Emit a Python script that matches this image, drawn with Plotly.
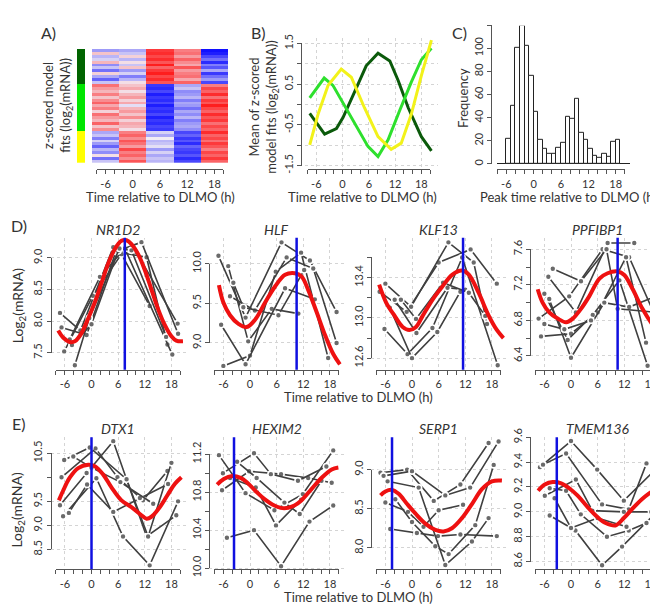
import plotly.graph_objects as go

W, H = 658, 606
FONT = "Lato"
TXT = "#333333"
AX = "#555555"
GRID = "#d4d4d4"

# ------------------------------------------------------------------ data
# Panel A : z-scored model fits per gene (rows) at 5 time bins
heat_times = [-6, 0, 6, 12, 18]
heat_darkgreen = [
    [-0.6, -0.5, 1.3, 0.8, -1.6], [0.3, -0.3, 1.4, 0.9, -1.5], [-0.4, 0.2, 1.2, 0.6, -1.2],
    [-0.2, -0.4, 1.4, 1.0, -0.9], [0.4, 0.1, 1.1, 0.7, -1.4], [-0.7, -0.3, 1.5, 0.5, -0.8],
    [-0.3, 0.3, 1.0, 1.1, -1.1], [-0.9, -0.6, 1.3, 0.6, -0.5], [0.2, -0.2, 1.5, 0.8, -1.3],
    [-0.5, -0.8, 1.2, 0.9, -0.9], [-1.0, -0.4, 1.4, 0.5, -0.6], [-0.3, 0.1, 1.1, 1.0, -1.2],
]
heat_green = [
    [0.9, 0.3, -1.3, -0.5, 0.8], [0.6, 0.5, -1.4, -0.3, 1.2], [0.4, 0.1, -1.2, -0.7, 1.0],
    [0.8, 0.4, -1.5, -0.6, 1.4], [0.3, 0.6, -1.3, -0.4, 0.9], [0.7, 0.2, -1.4, -0.8, 1.3],
    [1.0, 0.5, -1.2, -0.5, 1.1], [0.5, -0.1, -1.5, -0.6, 1.5], [0.8, 0.4, -1.3, -0.9, 1.2],
    [0.2, 0.6, -1.4, -0.5, 1.0], [0.9, 0.3, -1.2, -0.7, 1.4], [0.6, 0.7, -1.5, -0.4, 1.1],
    [0.4, 0.2, -1.3, -0.8, 1.3], [1.0, 0.5, -1.4, -0.6, 0.9], [0.3, 0.4, -1.2, -0.5, 1.2],
    [0.7, 0.1, -1.3, -0.7, 1.0],
]
heat_yellow = [
    [-0.5, 0.8, -0.2, -1.2, 1.4], [-0.3, 1.0, -0.5, -1.0, 1.0], [-0.8, 0.7, 0.0, -1.3, 1.2],
    [-0.2, 1.1, -0.4, -1.1, 0.9], [-0.6, 0.9, -0.3, -1.4, 1.3], [-1.0, 0.6, -0.1, -1.0, 1.1],
    [-0.4, 1.2, -0.6, -1.2, 0.8], [-0.7, 0.8, -0.2, -1.3, 1.2], [0.1, 1.0, -0.5, -1.1, 1.0],
    [-0.9, 0.7, -0.3, -1.4, 1.3], [-0.3, 1.1, -0.4, -1.2, 1.0],
]

# Panel B : cluster means
b_darkgreen_t = [-7.5, -4.1, -1.4, 0.1, 2.8, 5.4, 8.1, 10.8, 12.7, 15.0, 18.0, 20.3]
b_darkgreen_v = [-0.22, -0.73, -0.59, -0.32, 0.32, 0.95, 1.26, 1.07, 0.59, -0.08, -0.79, -1.14]
b_green_t = [-7.5, -4.2, -2.2, 0.5, 3.5, 5.8, 8.1, 10.4, 13.0, 15.7, 18.0, 20.3]
b_green_v = [0.16, 0.65, 0.47, -0.04, -0.63, -1.03, -1.28, -0.87, -0.16, 0.55, 1.10, 1.38]
b_yellow_t = [-7.5, -5.6, -3.3, -0.3, 2.0, 5.0, 8.1, 11.1, 13.4, 15.7, 18.0, 20.3]
b_yellow_v = [-0.99, -0.24, 0.47, 0.87, 0.67, -0.08, -0.79, -1.10, -0.95, -0.24, 0.71, 1.58]

# Panel C : histogram of peak times (1 h bins starting at -6)
hist_bin_start = [-6, -5, -4, -3, -2, -1, 0, 1, 2, 3, 4, 5, 6, 7, 8, 9, 10, 11, 12, 13, 14, 15, 16, 17, 18]
hist_counts = [22, 50, 100, 119, 102, 76, 45, 21, 13, 9, 9, 14, 18, 41, 39, 56, 27, 21, 13, 7, 5, 9, 6, 19, 21]

# Tick labels (empty string = unlabelled tick)
time_ticks = [-8, -6, -4, -2, 0, 2, 4, 6, 8, 10, 12, 14, 16, 18, 20]
time_labels = ["", "-6", "", "", "0", "", "", "6", "", "", "12", "", "", "18", ""]
b_yticks = [-1.5, -1.0, -0.5, 0.0, 0.5, 1.0, 1.5]
b_ylabels = ["-1.5", "", "-0.5", "", "0.5", "", "1.5"]
c_yticks = [0, 20, 40, 60, 80, 100, 120]
c_ylabels = ["0", "20", "40", "60", "80", "100", ""]

# Panels D/E : genes
NR1D2_fit_t = [-7.5, -6.4, -4.9, -3.75, -2.25, -0.75, 0.75, 2.25, 3.75, 5.25, 6.75, 7.9, 9.0, 10.5, 12.0, 13.5, 15.0, 16.5, 18.0, 19.1, 20.6]
NR1D2_fit_v = [7.85, 7.74, 7.67, 7.68, 7.81, 8.04, 8.30, 8.60, 8.91, 9.14, 9.27, 9.28, 9.22, 9.06, 8.81, 8.50, 8.19, 7.94, 7.76, 7.69, 7.68]
NR1D2_subjects = [
    [(-7.1, 8.13), (-2.5, 7.85), (4.9, 9.17), (10.1, 9.09), (19.4, 7.96)],
    [(-6.75, 7.90), (-1.1, 7.78), (5.5, 9.10), (12.4, 9.01), (17.1, 7.63)],
    [(-6.15, 7.52), (0.3, 8.40), (6.75, 9.06), (13.1, 8.24)],
    [(-4.9, 7.71), (1.9, 8.70), (7.5, 9.15), (18.2, 7.47)],
    [(-4.4, 7.62), (0.0, 7.95), (6.0, 9.11), (11.25, 9.25), (19.5, 7.80)],
    [(-3.75, 7.30), (-0.5, 8.05), (6.3, 9.15), (9.0, 9.12), (16.8, 7.75)],
]
NR1D2_peak = 7.5
NR1D2_yticks = [7.5, 8.0, 8.5, 9.0]
NR1D2_ylabels = ["7.5", "8.0", "8.5", "9.0"]

HLF_fit_t = [-7.0, -6.0, -4.5, -2.6, -0.75, 1.1, 3.4, 5.6, 7.9, 10.1, 11.6, 13.1, 15.0, 16.9, 18.75, 20.25]
HLF_fit_v = [9.73, 9.51, 9.35, 9.24, 9.20, 9.29, 9.51, 9.71, 9.86, 9.88, 9.84, 9.67, 9.39, 9.10, 8.86, 8.73]
HLF_subjects = [
    [(-7.1, 10.10), (-1.0, 9.32), (7.1, 10.27), (13.5, 10.04), (19.5, 9.39)],
    [(-6.0, 8.71), (0.0, 8.84), (5.8, 9.90), (11.5, 10.14), (17.6, 8.81)],
    [(-4.9, 9.97), (-0.4, 9.02), (4.9, 9.43), (10.9, 9.37)],
    [(-4.5, 9.59), (1.1, 9.41), (8.25, 10.08), (14.25, 9.94), (19.5, 9.00)],
    [(-3.75, 9.76), (-1.5, 9.45), (6.4, 9.35), (12.2, 9.92)],
    [(-6.5, 9.23), (-1.0, 8.73), (7.9, 9.69), (14.6, 9.55)],
]
HLF_peak = 10.5
HLF_yticks = [9.0, 9.5, 10.0]
HLF_ylabels = ["9.0", "9.5", "10.0"]

KLF13_fit_t = [-7.4, -5.8, -3.9, -2.1, -0.6, 0.9, 2.4, 4.6, 6.8, 9.1, 11.3, 12.8, 15.0, 17.3, 19.1, 20.6]
KLF13_fit_v = [13.33, 13.15, 13.02, 12.91, 12.88, 12.91, 13.02, 13.18, 13.31, 13.43, 13.47, 13.43, 13.25, 13.02, 12.88, 12.80]
KLF13_subjects = [
    [(-7.3, 13.26), (-1.2, 13.06), (6.0, 13.55), (13.2, 13.68), (19.1, 13.34)],
    [(-6.0, 13.34), (-0.2, 13.11), (8.2, 13.75), (13.9, 13.55), (16.9, 12.94)],
    [(-6.2, 12.89), (-1.0, 12.64), (4.6, 12.90), (11.3, 13.60), (19.3, 12.53)],
    [(-3.9, 13.18), (1.0, 12.85), (8.0, 13.30), (12.0, 13.28)],
    [(-5.0, 13.10), (0.0, 12.60), (5.7, 12.86), (10.9, 13.26)],
    [(-2.5, 13.18), (0.9, 12.99), (7.0, 13.35), (12.8, 13.25), (16.5, 13.02)],
]
KLF13_peak = 11.5
KLF13_yticks = [12.6, 12.8, 13.0, 13.2, 13.4, 13.6]
KLF13_ylabels = ["12.6", "", "13.0", "", "13.4", ""]

PPFIBP1_fit_t = [-7.5, -6.4, -4.9, -3.0, -1.1, 0.4, 2.25, 4.1, 6.4, 8.25, 10.5, 12.0, 13.9, 16.1, 18.4, 20.6]
PPFIBP1_fit_v = [7.15, 7.00, 6.89, 6.82, 6.78, 6.82, 6.93, 7.07, 7.27, 7.33, 7.35, 7.31, 7.15, 6.93, 6.75, 6.62]
PPFIBP1_subjects = [
    [(-7.3, 6.82), (-0.4, 7.07), (7.1, 7.60), (13.1, 7.51), (19.4, 6.80)],
    [(-6.75, 6.62), (0.0, 6.65), (6.0, 6.89), (12.4, 7.51), (16.9, 6.55)],
    [(-6.0, 7.10), (-0.75, 6.58), (4.9, 6.86), (10.9, 7.25), (17.25, 6.29)],
    [(-5.1, 7.29), (1.1, 6.89), (8.25, 7.67), (14.25, 7.67)],
    [(-4.9, 7.04), (0.0, 6.38), (7.5, 7.00), (13.1, 6.95), (19.1, 7.07)],
    [(-4.1, 7.38), (2.25, 7.24), (8.0, 7.60), (10.5, 6.93), (19.5, 6.89)],
    [(-6.0, 6.76), (-1.5, 6.70), (4.5, 6.80)],
]
PPFIBP1_peak = 10.5
PPFIBP1_yticks = [6.4, 6.6, 6.8, 7.0, 7.2, 7.4, 7.6]
PPFIBP1_ylabels = ["6.4", "", "6.8", "", "7.2", "", "7.6"]

DTX1_fit_t = [-7.35, -6.4, -4.9, -3.0, -0.75, 0.75, 2.6, 4.5, 6.75, 9.0, 11.25, 12.4, 13.5, 15.4, 17.25, 18.75, 20.25]
DTX1_fit_v = [9.52, 9.72, 9.99, 10.19, 10.26, 10.23, 10.06, 9.79, 9.52, 9.38, 9.21, 9.14, 9.18, 9.38, 9.65, 9.86, 10.00]
DTX1_subjects = [
    [(-7.1, 9.42), (-1.1, 10.09), (4.9, 10.75), (12.4, 8.77), (19.1, 9.21)],
    [(-6.75, 10.00), (0.9, 10.60), (5.85, 10.00), (11.6, 9.52), (17.1, 10.13)],
    [(-6.15, 10.36), (-0.4, 10.62), (7.9, 9.96), (12.75, 8.77), (18.0, 10.30)],
    [(-6.4, 9.19), (1.1, 9.98), (7.1, 8.77), (13.1, 8.17), (19.5, 9.50)],
    [(-5.1, 9.26), (-1.0, 9.85), (4.9, 9.28), (10.9, 9.57), (17.25, 9.86)],
    [(-4.1, 10.43), (0.0, 10.20), (6.5, 9.90), (13.9, 9.45)],
]
DTX1_peak = 0.0
DTX1_yticks = [8.5, 9.0, 9.5, 10.0, 10.5]
DTX1_ylabels = ["8.5", "9.0", "9.5", "", "10.5"]

HEXIM2_fit_t = [-7.4, -5.9, -4.0, -2.1, -0.6, 1.3, 3.2, 5.5, 7.7, 10.0, 11.5, 13.8, 16.1, 18.4, 19.9]
HEXIM2_fit_v = [10.88, 10.94, 10.97, 10.95, 10.90, 10.81, 10.73, 10.66, 10.63, 10.66, 10.71, 10.83, 10.95, 11.04, 11.06]
HEXIM2_subjects = [
    [(-7.0, 11.19), (-1.0, 10.79), (5.5, 10.61), (11.9, 10.78), (18.75, 11.24)],
    [(-6.3, 10.82), (-0.2, 11.02), (7.0, 10.99), (13.1, 10.95), (18.4, 10.90)],
    [(-6.1, 11.00), (0.9, 11.21), (4.7, 10.99), (10.8, 10.92), (17.2, 11.07)],
    [(-5.2, 10.32), (0.9, 10.40), (7.0, 10.02), (13.4, 10.49), (18.75, 10.66)],
    [(-2.9, 11.12), (1.5, 10.95), (7.75, 10.69), (11.2, 10.57), (16.1, 10.92)],
    [(-4.5, 10.95), (1.3, 10.85), (5.85, 10.45), (11.5, 10.72)],
]
HEXIM2_peak = -3.6
HEXIM2_yticks = [10.0, 10.2, 10.4, 10.6, 10.8, 11.0, 11.2]
HEXIM2_ylabels = ["10.0", "", "10.4", "", "10.8", "", "11.2"]

SERP1_fit_t = [-7.1, -6.0, -4.5, -3.0, -1.1, 0.75, 3.0, 5.25, 7.1, 9.0, 11.25, 13.5, 15.75, 18.0, 20.25]
SERP1_fit_v = [8.67, 8.72, 8.74, 8.69, 8.56, 8.44, 8.31, 8.23, 8.21, 8.25, 8.38, 8.56, 8.75, 8.85, 8.86]
SERP1_subjects = [
    [(-7.1, 8.96), (-1.1, 9.00), (4.9, 8.60), (10.9, 8.81), (17.25, 9.34)],
    [(-6.4, 8.92), (0.0, 8.98), (7.5, 8.67), (13.1, 8.77), (19.5, 9.36)],
    [(-6.0, 8.58), (-0.9, 8.46), (2.6, 8.27), (6.0, 8.48), (11.5, 8.55)],
    [(-4.9, 8.24), (1.1, 8.19), (5.85, 8.15), (10.9, 8.17), (19.1, 8.15)],
    [(-3.75, 8.62), (0.0, 8.33), (5.25, 8.02), (8.25, 7.92), (14.25, 8.29), (18.4, 9.06)],
    [(-5.5, 8.85), (1.5, 8.77), (7.5, 7.78), (13.5, 8.08), (17.25, 8.38)],
]
SERP1_peak = -4.5
SERP1_yticks = [8.0, 8.5, 9.0]
SERP1_ylabels = ["8.0", "8.5", "9.0"]

TMEM136_fit_t = [-7.4, -5.9, -4.1, -2.2, -0.4, 1.5, 3.7, 5.9, 7.8, 10.0, 11.9, 13.7, 15.9, 18.1, 20.4]
TMEM136_fit_v = [9.17, 9.22, 9.24, 9.23, 9.19, 9.13, 9.04, 8.96, 8.91, 8.89, 8.95, 9.02, 9.10, 9.16, 9.19]
TMEM136_subjects = [
    [(-7.0, 9.36), (0.0, 9.57), (5.9, 9.34), (11.9, 9.09), (19.0, 9.34)],
    [(-6.3, 9.38), (-1.1, 9.47), (7.0, 9.06), (13.0, 9.02), (17.0, 9.39)],
    [(-5.9, 9.13), (1.1, 9.26), (4.8, 9.01), (11.9, 9.00), (18.1, 9.00)],
    [(-4.8, 8.97), (1.0, 8.85), (7.0, 8.57), (11.5, 8.72), (19.3, 9.00)],
    [(-4.8, 9.19), (-1.1, 9.17), (2.2, 8.98), (8.1, 8.80), (13.0, 8.85), (17.0, 8.91)],
    [(-3.7, 9.11), (0.0, 8.87), (6.0, 8.95), (12.5, 8.88)],
]
TMEM136_peak = -3.2
TMEM136_yticks = [8.6, 8.8, 9.0, 9.2, 9.4, 9.6]
TMEM136_ylabels = ["8.6", "8.8", "9.0", "9.2", "9.4", "9.6"]

# ------------------------------------------------------------------ helpers
fig = go.Figure()
L = {}
cnt = [0]


def names(n):
    if n == 1:
        return "xaxis", "yaxis", "x", "y"
    return f"xaxis{n}", f"yaxis{n}", f"x{n}", f"y{n}"


def main_axes(box, xr, yr, xgrid=(), ygrid=(), yreverse=False):
    cnt[0] += 1
    xk, yk, xa, ya = names(cnt[0])
    l, t, r, b = box
    L[xk] = dict(domain=[l / W, r / W], range=xr, anchor=ya, showline=False, zeroline=False,
                 ticks="", showticklabels=False, showgrid=len(xgrid) > 0, tickvals=list(xgrid),
                 gridcolor=GRID, griddash="dot", gridwidth=1, fixedrange=True)
    L[yk] = dict(domain=[1 - b / H, 1 - t / H], range=(yr[::-1] if yreverse else yr), anchor=xa,
                 showline=False, zeroline=False, ticks="", showticklabels=False,
                 showgrid=len(ygrid) > 0, tickvals=list(ygrid), gridcolor=GRID, griddash="dot",
                 gridwidth=1, fixedrange=True)
    return xa, ya


def tick_setup(tickvals, ticktext, angle=0):
    major = [v for v, s in zip(tickvals, ticktext) if s]
    labels = [s for s in ticktext if s]
    minor_v = [v for v, s in zip(tickvals, ticktext) if not s]
    d = dict(showline=True, linecolor=AX, linewidth=1, ticks="outside", ticklen=4, tickwidth=1,
             tickcolor=AX, tickvals=major, ticktext=labels,
             tickfont=dict(family=FONT, size=11, color=TXT), tickangle=angle,
             showgrid=False, zeroline=False, fixedrange=True)
    if minor_v:
        d["minor"] = dict(tickvals=minor_v, ticks="outside", ticklen=4, tickwidth=1,
                          tickcolor=AX, showgrid=False)
    return d


def r_axis_x(box, xr, tickvals, ticktext, y_px):
    l, t, r, b = box
    f = lambda v: l + (v - xr[0]) / (xr[1] - xr[0]) * (r - l)
    cnt[0] += 1
    xk, yk, xa, ya = names(cnt[0])
    lo, hi = tickvals[0], tickvals[-1]
    d = tick_setup(tickvals, ticktext)
    d.update(domain=[f(lo) / W, f(hi) / W], range=[lo, hi], anchor="free", position=1 - y_px / H,
             side="bottom")
    L[xk] = d
    L[yk] = dict(visible=False, domain=[0, 0.01], range=[0, 1], anchor=xa, fixedrange=True)
    fig.add_trace(go.Scatter(x=[lo, hi], y=[0.5, 0.5], xaxis=xa, yaxis=ya, mode="markers",
                             marker=dict(opacity=0), hoverinfo="skip", showlegend=False))


def r_axis_y(box, yr, tickvals, ticktext, x_px):
    l, t, r, b = box
    g = lambda v: b - (v - yr[0]) / (yr[1] - yr[0]) * (b - t)
    cnt[0] += 1
    xk, yk, xa, ya = names(cnt[0])
    lo, hi = tickvals[0], tickvals[-1]
    d = tick_setup(tickvals, ticktext, angle=-90)
    d.update(domain=[1 - g(lo) / H, 1 - g(hi) / H], range=[lo, hi], anchor="free",
             position=x_px / W, side="left")
    L[yk] = d
    L[xk] = dict(visible=False, domain=[0, 0.01], range=[0, 1], anchor=ya, fixedrange=True)
    fig.add_trace(go.Scatter(x=[0.5, 0.5], y=[lo, hi], xaxis=xa, yaxis=ya, mode="markers",
                             marker=dict(opacity=0), hoverinfo="skip", showlegend=False))


annotations = []


def text(x_px, y_px, s, size=13, angle=0, italic=False):
    annotations.append(dict(x=x_px / W, y=1 - y_px / H, xref="paper", yref="paper", text=s,
                            showarrow=False, textangle=angle, xanchor="center", yanchor="middle",
                            font=dict(family=FONT, size=size, color=TXT,
                                      style="italic" if italic else "normal")))


# ------------------------------------------------------------------ Panel A
cluster_rows = [heat_darkgreen, heat_green, heat_yellow]
cluster_colors = ["#006400", "#00e600", "#ffff00"]
rows = [r for c in cluster_rows for r in c]
nrows = len(rows)
boxA = (84, 29, 220, 147)
xrA = [-9, 21]
yrA = [-0.5, nrows - 0.5]
xa, ya = main_axes(boxA, xrA, yrA, yreverse=True)
fig.add_trace(go.Heatmap(z=rows, x=heat_times, y=list(range(nrows)), xaxis=xa, yaxis=ya,
                         colorscale=[[0, "#1010ff"], [0.5, "#f2ecf4"], [1, "#ff1010"]],
                         zmin=-1.6, zmax=1.6, showscale=False, hoverinfo="skip"))
strip_z = [[k] for k, c in enumerate(cluster_rows) for _ in c]
cnt[0] += 1
xk, yk, xs, ys = names(cnt[0])
L[xk] = dict(domain=[69 / W, 77 / W], range=[-0.5, 0.5], visible=False, anchor=ya, fixedrange=True)
fig.add_trace(go.Heatmap(z=strip_z, x=[0], y=list(range(nrows)), xaxis=xs, yaxis=ya,
                         colorscale=[[0, cluster_colors[0]], [0.33, cluster_colors[0]],
                                     [0.34, cluster_colors[1]], [0.66, cluster_colors[1]],
                                     [0.67, cluster_colors[2]], [1, cluster_colors[2]]],
                         zmin=0, zmax=2, showscale=False, hoverinfo="skip"))
r_axis_x(boxA, xrA, time_ticks, time_labels, 154)
text(152, 183, "Time relative to DLMO (h)", size=13)
text(50, 88, "z-scored model<br>fits (log<sub>2</sub>(mRNA))", size=13, angle=-90)
text(40, 12, "A)", size=16)

# ------------------------------------------------------------------ Panel B
boxB = (297, 18, 430, 154)
xrB = [-8.58, 21.8]
yrB = [-1.595, 1.625]
xa, ya = main_axes(boxB, xrB, yrB, xgrid=heat_times, ygrid=b_yticks)
for t, v, c in [(b_darkgreen_t, b_darkgreen_v, "#0b5a0b"),
                (b_green_t, b_green_v, "#2ee02e"),
                (b_yellow_t, b_yellow_v, "#f2f21a")]:
    fig.add_trace(go.Scatter(x=t, y=v, xaxis=xa, yaxis=ya, mode="lines",
                             line=dict(color=c, width=3), hoverinfo="skip", showlegend=False))
r_axis_x(boxB, xrB, time_ticks, time_labels, 154)
r_axis_y(boxB, yrB, b_yticks, b_ylabels, 293)
text(354, 183, "Time relative to DLMO (h)", size=13)
text(256, 90, "Mean of z-scored<br>model fits (log<sub>2</sub>(mRNA))", size=13, angle=-90)
text(250, 12, "B)", size=16)

# ------------------------------------------------------------------ Panel C
boxC = (489, 5, 622, 149)
xrC = [-8.04, 21.13]
yrC = [-0.58, 119.4]
xa, ya = main_axes(boxC, xrC, yrC)
L[names(cnt[0])[1]].update(zeroline=True, zerolinecolor="#222222", zerolinewidth=1)
fig.add_trace(go.Bar(x=[s + 0.5 for s in hist_bin_start], y=hist_counts, width=1, xaxis=xa, yaxis=ya,
                     marker=dict(color="white", line=dict(color="#222222", width=1)),
                     hoverinfo="skip", showlegend=False))
r_axis_x(boxC, xrC, time_ticks, time_labels, 154)
r_axis_y(boxC, yrC, c_yticks, c_ylabels, 483)
text(560, 183, "Peak time relative to DLMO (h)", size=13)
text(455, 80, "Frequency", size=13, angle=-90)
text(451, 12, "C)", size=16)

# ------------------------------------------------------------------ Panels D / E
genes = [
    ("NR1D2", NR1D2_fit_t, NR1D2_fit_v, NR1D2_subjects, NR1D2_peak, NR1D2_yticks, NR1D2_ylabels, [7.228, 9.318]),
    ("HLF", HLF_fit_t, HLF_fit_v, HLF_subjects, HLF_peak, HLF_yticks, HLF_ylabels, [8.66, 10.327]),
    ("KLF13", KLF13_fit_t, KLF13_fit_v, KLF13_subjects, KLF13_peak, KLF13_yticks, KLF13_ylabels, [12.484, 13.795]),
    ("PPFIBP1", PPFIBP1_fit_t, PPFIBP1_fit_v, PPFIBP1_subjects, PPFIBP1_peak, PPFIBP1_yticks, PPFIBP1_ylabels, [6.244, 7.728]),
    ("DTX1", DTX1_fit_t, DTX1_fit_v, DTX1_subjects, DTX1_peak, DTX1_yticks, DTX1_ylabels, [8.087, 10.83]),
    ("HEXIM2", HEXIM2_fit_t, HEXIM2_fit_v, HEXIM2_subjects, HEXIM2_peak, HEXIM2_yticks, HEXIM2_ylabels, [9.987, 11.378]),
    ("SERP1", SERP1_fit_t, SERP1_fit_v, SERP1_subjects, SERP1_peak, SERP1_yticks, SERP1_ylabels, [7.725, 9.4125]),
    ("TMEM136", TMEM136_fit_t, TMEM136_fit_v, TMEM136_subjects, TMEM136_peak, TMEM136_yticks, TMEM136_ylabels, [8.537, 9.6]),
]
col_zero = [83.5, 242, 404, 563]
px_per_h = 4.44
xrG = [-9.2, 21.2]
row_tb = [(225, 362), (432, 569)]
shapes = []
for i, (name, ft, fv, subs, peak, yt, yl, yr) in enumerate(genes):
    row, col = divmod(i, 4)
    top, bot = row_tb[row]
    box = (col_zero[col] + xrG[0] * px_per_h, top, col_zero[col] + xrG[1] * px_per_h, bot)
    ygrid = [v for v, s in zip(yt, yl) if s]
    xa, ya = main_axes(box, xrG, yr, xgrid=heat_times, ygrid=ygrid)
    for sub in subs:
        fig.add_trace(go.Scatter(x=[p[0] for p in sub], y=[p[1] for p in sub], xaxis=xa, yaxis=ya,
                                 mode="lines+markers", line=dict(color="#404040", width=1.6),
                                 marker=dict(size=6, color="#6a6a6a", line=dict(color="white", width=1.6)),
                                 hoverinfo="skip", showlegend=False))
    fig.add_trace(go.Scatter(x=ft, y=fv, xaxis=xa, yaxis=ya, mode="lines", line_shape="spline",
                             line=dict(color="#ee1111", width=4), hoverinfo="skip", showlegend=False))
    shapes.append(dict(type="line", xref=xa, yref=f"{ya} domain", x0=peak, x1=peak, y0=0, y1=1,
                       line=dict(color="#1010e0", width=2.5)))
    r_axis_x(box, xrG, time_ticks, time_labels, bot)
    r_axis_y(box, yr, yt, yl, box[0])
    text((box[0] + box[2]) / 2, top - 9, name, size=14, italic=True)

text(350, 390, "Time relative to DLMO (h)", size=13)
text(350, 598, "Time relative to DLMO (h)", size=13)
text(10, 295, "Log<sub>2</sub>(mRNA)", size=14, angle=-90)
text(10, 507, "Log<sub>2</sub>(mRNA)", size=14, angle=-90)
text(11, 212, "D)", size=16)
text(11, 418, "E)", size=16)

fig.update_layout(width=W, height=H, autosize=False, margin=dict(l=0, r=0, t=0, b=0),
                  paper_bgcolor="white", plot_bgcolor="rgba(0,0,0,0)", showlegend=False,
                  bargap=0, annotations=annotations, shapes=shapes, **L)
fig.write_html("out.html")
